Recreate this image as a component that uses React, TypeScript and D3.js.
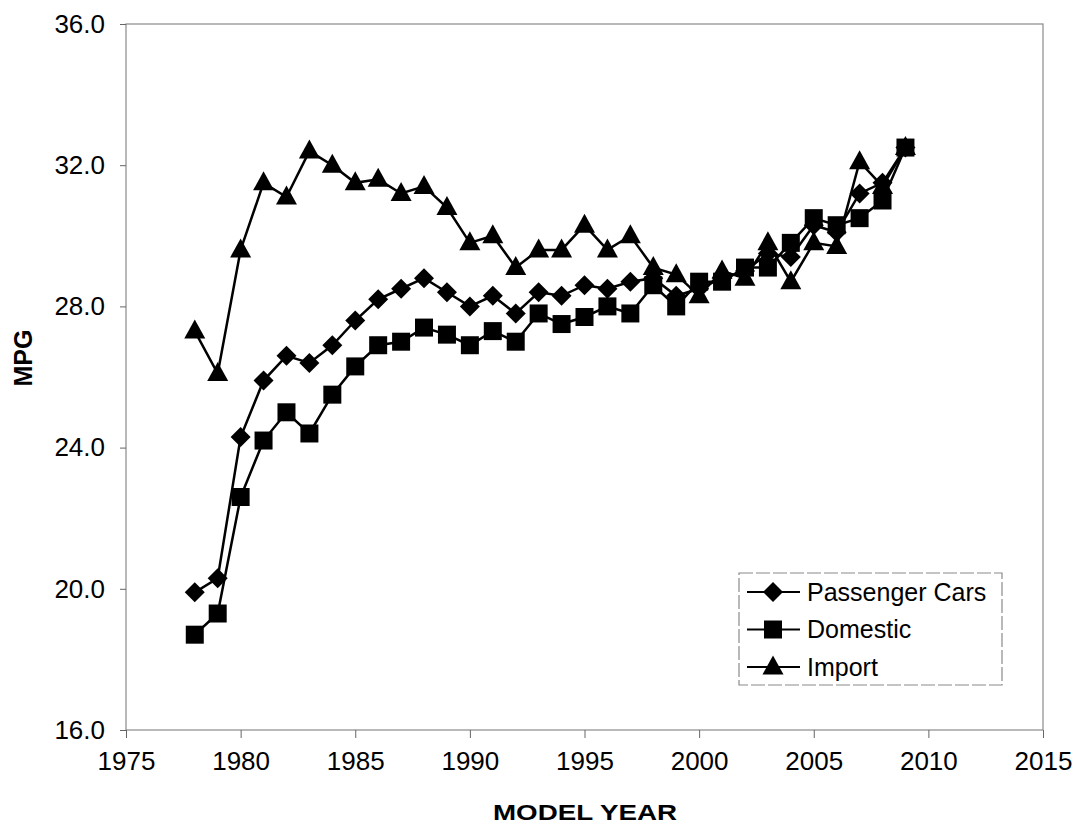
import React, { useEffect, useRef } from 'react';
import * as d3 from 'd3';

// model years and CAFE values
const years = d3.range(1978, 2010);
const passengerCars = [
  19.9, 20.3, 24.3, 25.9, 26.6, 26.4, 26.9, 27.6, 28.2, 28.5, 28.8, 28.4, 28.0, 28.3, 27.8, 28.4,
  28.3, 28.6, 28.5, 28.7, 28.8, 28.3, 28.5, 28.8, 29.0, 29.5, 29.4, 30.3, 30.1, 31.2, 31.5, 32.5,
];
const domestic = [
  18.7, 19.3, 22.6, 24.2, 25.0, 24.4, 25.5, 26.3, 26.9, 27.0, 27.4, 27.2, 26.9, 27.3, 27.0, 27.8,
  27.5, 27.7, 28.0, 27.8, 28.6, 28.0, 28.7, 28.7, 29.1, 29.1, 29.8, 30.5, 30.3, 30.5, 31.0, 32.5,
];
const imports = [
  27.3, 26.1, 29.6, 31.5, 31.1, 32.4, 32.0, 31.5, 31.6, 31.2, 31.4, 30.8, 29.8, 30.0, 29.1, 29.6,
  29.6, 30.3, 29.6, 30.0, 29.1, 28.9, 28.3, 29.0, 28.8, 29.8, 28.7, 29.8, 29.7, 32.1, 31.4, 32.5,
];
const seriesNames = ['Passenger Cars', 'Domestic', 'Import'];
const xTicks = [1975, 1980, 1985, 1990, 1995, 2000, 2005, 2010, 2015];
const yTicks = [16, 20, 24, 28, 32, 36];

const FONT = '"Liberation Sans", Arial, sans-serif';

// marker shapes drawn around (0,0)
const markerPaths: Record<string, string> = {
  diamond: 'M0,-10L10,0L0,10L-10,0Z',
  square: 'M-9,-9H9V9H-9Z',
  triangle: 'M0,-11.5L10.5,7.5L-10.5,7.5Z',
};

const App = () => {
  const svgRef = useRef<SVGSVGElement>(null);

  useEffect(() => {
    const width = 1078;
    const height = 835;
    const margin = { top: 24, right: 35, bottom: 105, left: 126 };

    const svg = d3.select(svgRef.current);
    svg.selectAll('*').remove();

    const x = d3
      .scaleLinear()
      .domain([1975, 2015])
      .range([margin.left, width - margin.right]);
    const y = d3
      .scaleLinear()
      .domain([16, 36])
      .range([height - margin.bottom, margin.top]);

    // plot frame
    svg
      .append('rect')
      .attr('x', margin.left)
      .attr('y', margin.top)
      .attr('width', width - margin.right - margin.left)
      .attr('height', height - margin.bottom - margin.top)
      .attr('fill', 'none')
      .attr('stroke', '#8a8a8a')
      .attr('stroke-width', 1.2);

    // y axis
    const yAxis = svg
      .append('g')
      .attr('transform', `translate(${margin.left},0)`)
      .call(
        d3
          .axisLeft(y)
          .tickValues(yTicks)
          .tickFormat(d3.format('.1f'))
          .tickSize(6)
          .tickPadding(15)
      );
    yAxis.select('.domain').remove();
    yAxis.selectAll('line').attr('stroke', '#666');
    yAxis
      .selectAll('text')
      .attr('fill', '#000')
      .style('font-family', FONT)
      .style('font-size', '26px');

    // x axis
    const xAxis = svg
      .append('g')
      .attr('transform', `translate(0,${height - margin.bottom})`)
      .call(
        d3
          .axisBottom(x)
          .tickValues(xTicks)
          .tickFormat(d3.format('d'))
          .tickSize(8)
          .tickPadding(14)
      );
    xAxis.select('.domain').remove();
    xAxis.selectAll('line').attr('stroke', '#666');
    xAxis
      .selectAll('text')
      .attr('fill', '#000')
      .style('font-family', FONT)
      .style('font-size', '26px');

    // axis titles
    svg
      .append('text')
      .attr('x', 585)
      .attr('y', 820)
      .attr('text-anchor', 'middle')
      .attr('textLength', 184)
      .attr('lengthAdjust', 'spacingAndGlyphs')
      .style('font-family', FONT)
      .style('font-size', '22px')
      .style('font-weight', 'bold')
      .text('MODEL YEAR');

    svg
      .append('text')
      .attr('transform', 'translate(32,358) rotate(-90)')
      .attr('text-anchor', 'middle')
      .style('font-family', FONT)
      .style('font-size', '25px')
      .style('font-weight', 'bold')
      .text('MPG');

    const series = [
      { name: seriesNames[0], values: passengerCars, marker: 'diamond' },
      { name: seriesNames[1], values: domestic, marker: 'square' },
      { name: seriesNames[2], values: imports, marker: 'triangle' },
    ];

    const line = d3
      .line<number>()
      .x((d, i) => x(years[i]))
      .y((d) => y(d));

    // draw import first so passenger cars sit on top, like the original
    [...series].reverse().forEach((s) => {
      const g = svg.append('g');
      g.append('path')
        .attr('d', line(s.values))
        .attr('fill', 'none')
        .attr('stroke', '#000')
        .attr('stroke-width', 2.5);
      g.selectAll('path.m')
        .data(s.values)
        .enter()
        .append('path')
        .attr('class', 'm')
        .attr('d', markerPaths[s.marker])
        .attr('transform', (d, i) => `translate(${x(years[i])},${y(d)})`)
        .attr('fill', '#000');
    });

    // legend
    const legend = svg.append('g');
    legend
      .append('rect')
      .attr('x', 739)
      .attr('y', 573)
      .attr('width', 263)
      .attr('height', 112)
      .attr('fill', '#fff')
      .attr('stroke', '#8a8a8a')
      .attr('stroke-width', 1.2)
      .attr('stroke-dasharray', '14,3');

    const items = legend
      .selectAll('g.item')
      .data(series)
      .enter()
      .append('g')
      .attr('class', 'item')
      .attr('transform', (d, i) => `translate(0,${592 + i * 37.5})`);

    items
      .append('line')
      .attr('x1', 747)
      .attr('x2', 800)
      .attr('stroke', '#000')
      .attr('stroke-width', 2);
    items
      .append('path')
      .attr('d', (d) => markerPaths[d.marker])
      .attr('transform', 'translate(773,0)')
      .attr('fill', '#000');
    items
      .append('text')
      .attr('x', 807)
      .attr('dy', '0.35em')
      .style('font-family', FONT)
      .style('font-size', '25px')
      .text((d) => d.name);
  }, []);

  return (
    <svg
      ref={svgRef}
      width={1078}
      height={835}
      style={{ position: 'absolute', left: 0, top: 0, background: '#fff' }}
    ></svg>
  );
};

export default App;
